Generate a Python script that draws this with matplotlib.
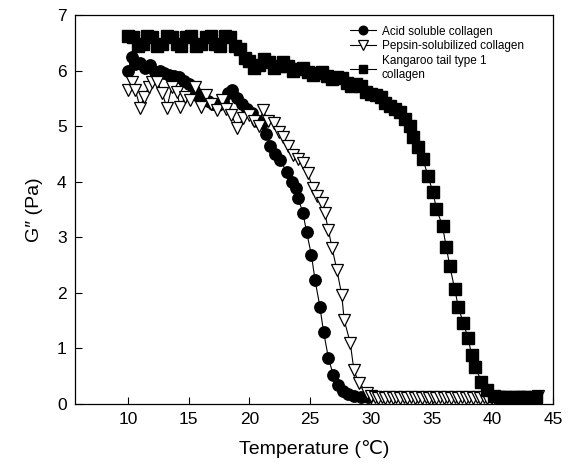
import matplotlib
matplotlib.use("Agg")
import matplotlib.pyplot as plt

plt.rcParams['font.family'] = ['Liberation Sans', 'DejaVu Sans']

# ---------------------------------
# Data
# ---------------------------------
acid_temp = [10.0, 10.3, 10.6, 11.0, 11.4, 11.8, 12.2, 12.6, 13.0, 13.4,
             13.8, 14.2, 14.6, 15.0, 15.4, 15.8, 16.2, 16.6, 17.0, 17.4,
             17.8, 18.2, 18.6, 19.0, 19.4, 19.8, 20.2, 20.6, 21.0, 21.4,
             21.7, 22.1, 22.5, 23.1, 23.5, 23.8, 24.0, 24.4, 24.7, 25.1,
             25.4, 25.8, 26.1, 26.5, 26.9, 27.3, 27.7, 28.1, 28.6, 29.2, 29.8]
acid_g = [6.00, 6.25, 6.12, 6.14, 6.05, 6.10, 5.97, 6.00, 5.95, 5.92,
          5.90, 5.88, 5.82, 5.75, 5.65, 5.55, 5.50, 5.45, 5.40, 5.38,
          5.45, 5.60, 5.65, 5.50, 5.40, 5.30, 5.23, 5.10, 5.05, 4.85,
          4.65, 4.50, 4.39, 4.17, 4.00, 3.89, 3.71, 3.44, 3.10, 2.68,
          2.23, 1.75, 1.30, 0.83, 0.52, 0.34, 0.24, 0.18, 0.14, 0.12, 0.12]

pepsin_temp = [10.0, 10.3, 10.6, 11.0, 11.3, 11.7, 12.0, 12.4, 12.8, 13.2,
               13.6, 14.0, 14.3, 14.7, 15.1, 15.5, 16.0, 16.4, 16.8, 17.3,
               17.7, 18.1, 18.5, 19.0, 19.5, 20.0, 20.4, 20.8, 21.1, 21.5,
               22.0, 22.4, 22.8, 23.2, 23.6, 24.0, 24.4, 24.8, 25.2, 25.6,
               26.0, 26.2, 26.5, 26.8, 27.2, 27.6, 27.8, 28.3, 28.6, 29.0,
               29.7, 30.0, 30.3, 30.6, 30.9, 31.2, 31.5, 31.8, 32.1, 32.4,
               32.7, 33.0, 33.3, 33.6, 33.9, 34.2, 34.5, 34.8, 35.1, 35.4,
               35.7, 36.0, 36.3, 36.6, 36.9, 37.2, 37.5, 37.8, 38.1, 38.4,
               38.7, 39.0, 39.3, 39.6, 39.9, 40.2, 40.5, 40.8, 41.1, 41.4,
               41.7, 42.0, 42.3, 42.6, 42.9, 43.2, 43.5, 43.8]
pepsin_g = [5.65, 5.80, 5.65, 5.33, 5.52, 5.70, 5.80, 5.80, 5.60, 5.33,
            5.70, 5.62, 5.35, 5.52, 5.47, 5.70, 5.35, 5.56, 5.40, 5.29,
            5.47, 5.30, 5.20, 4.97, 5.15, 5.20, 5.10, 5.00, 5.29, 5.10,
            5.06, 4.90, 4.80, 4.65, 4.48, 4.40, 4.34, 4.16, 3.89, 3.75,
            3.62, 3.44, 3.13, 2.81, 2.41, 1.96, 1.51, 1.10, 0.61, 0.38,
            0.20, 0.14, 0.12, 0.11, 0.12, 0.11, 0.12, 0.11, 0.12, 0.11,
            0.12, 0.11, 0.12, 0.11, 0.12, 0.11, 0.12, 0.11, 0.12, 0.11,
            0.12, 0.11, 0.12, 0.11, 0.12, 0.11, 0.12, 0.11, 0.12, 0.11,
            0.12, 0.11, 0.12, 0.11, 0.12, 0.11, 0.12, 0.11, 0.12, 0.11,
            0.12, 0.11, 0.12, 0.11, 0.12, 0.11, 0.12, 0.14]

kangaroo_temp = [10.0, 10.4, 10.8, 11.2, 11.6, 12.0, 12.4, 12.8, 13.2, 13.6,
                 14.0, 14.4, 14.8, 15.2, 15.6, 16.0, 16.4, 16.8, 17.2, 17.6,
                 18.0, 18.4, 18.8, 19.2, 19.6, 20.0, 20.4, 20.8, 21.2, 21.6,
                 22.0, 22.4, 22.8, 23.2, 23.6, 24.0, 24.4, 24.8, 25.2, 25.6,
                 26.0, 26.4, 26.8, 27.2, 27.6, 28.0, 28.4, 28.8, 29.2, 29.6,
                 30.0, 30.4, 30.8, 31.2, 31.6, 32.0, 32.4, 32.8, 33.2, 33.5,
                 33.9, 34.3, 34.7, 35.1, 35.4, 35.9, 36.2, 36.5, 36.9, 37.2,
                 37.6, 38.0, 38.3, 38.6, 39.1, 39.6, 40.1, 40.6, 41.1, 41.6,
                 42.1, 42.6, 43.1, 43.6]
kangaroo_g = [6.62, 6.60, 6.45, 6.47, 6.62, 6.60, 6.45, 6.47, 6.62, 6.60,
              6.47, 6.45, 6.60, 6.62, 6.45, 6.47, 6.60, 6.62, 6.47, 6.45,
              6.62, 6.60, 6.45, 6.38, 6.22, 6.18, 6.05, 6.10, 6.20, 6.15,
              6.05, 6.08, 6.15, 6.08, 6.00, 6.02, 6.05, 5.98, 5.92, 5.95,
              5.98, 5.90, 5.85, 5.88, 5.86, 5.78, 5.72, 5.75, 5.72, 5.62,
              5.58, 5.56, 5.52, 5.42, 5.36, 5.30, 5.25, 5.12, 5.00, 4.80,
              4.62, 4.40, 4.10, 3.82, 3.51, 3.20, 2.83, 2.48, 2.07, 1.75,
              1.46, 1.19, 0.88, 0.67, 0.40, 0.25, 0.15, 0.12, 0.13, 0.11,
              0.12, 0.13, 0.11, 0.13]

# ---------------------------------
# Plot
# ---------------------------------
fig = plt.figure(figsize=(5.70, 4.72), dpi=100)
ax = fig.add_axes([0.1316, 0.1441, 0.8386, 0.8242])

ax.plot(acid_temp, acid_g, color='black', lw=0.8, marker='o', ms=8.2,
        mfc='black', mec='black', label='Acid soluble collagen', zorder=2)
ax.plot(pepsin_temp, pepsin_g, color='black', lw=0.8, marker='v', ms=9,
        mfc='white', mec='black', mew=0.9, label='Pepsin-solubilized collagen', zorder=3)
ax.plot(kangaroo_temp, kangaroo_g, color='black', lw=0.8, marker='s', ms=8.5,
        mfc='black', mec='black', label='Kangaroo tail type 1\ncollagen', zorder=4)

ax.set_xlim(5.63, 45)
ax.set_ylim(0, 7)
ax.set_xticks([10, 15, 20, 25, 30, 35, 40, 45])
ax.set_yticks([0, 1, 2, 3, 4, 5, 6, 7])
ax.tick_params(direction='in', length=5, width=0.8, labelsize=12.5,
               top=False, right=False, pad=6)
for s in ax.spines.values():
    s.set_linewidth(0.9)

ax.set_xlabel('Temperature (\u2103)', fontsize=14, labelpad=9)
ax.set_ylabel('G\u2033 (Pa)', fontsize=14, labelpad=10)

leg = ax.legend(loc='upper left', bbox_to_anchor=(0.565, 0.985), frameon=False,
                fontsize=8.5, handlelength=2.2, handletextpad=0.5,
                labelspacing=0.25, borderaxespad=0, markerscale=0.75)

fig.savefig('out.png', dpi=100)
